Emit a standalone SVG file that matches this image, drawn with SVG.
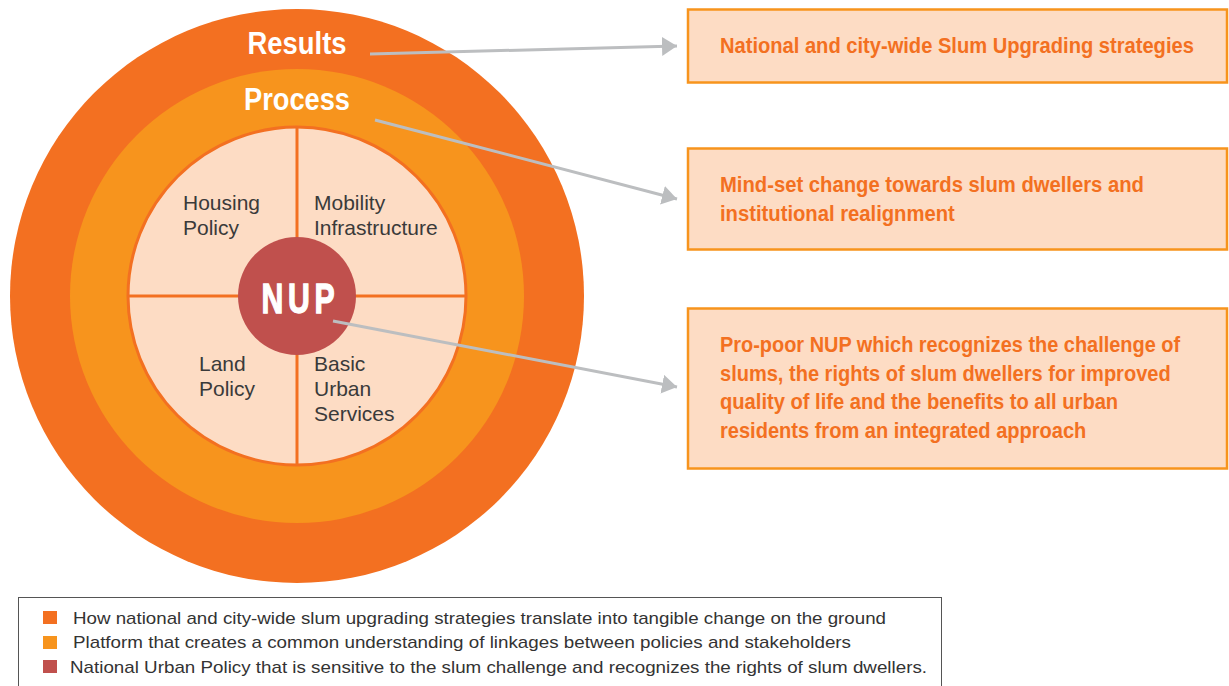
<svg xmlns="http://www.w3.org/2000/svg" width="1229" height="686" viewBox="0 0 1229 686">
<defs>
<style>
.bold{font-family:"Liberation Sans",Arial,sans-serif;font-weight:bold;}
.ring{fill:#fff;font-size:31px;text-anchor:middle;}
.lbl{font-family:"Liberation Sans",Arial,sans-serif;font-size:21px;fill:#3a3a3a;}
.box{fill:#FDDCC4;stroke:#F7941D;stroke-width:2.5;}
.btxt{fill:#F37021;font-size:22px;}
.leg{font-family:"Liberation Sans",Arial,sans-serif;font-size:17px;fill:#333;}
.conn{stroke:#BCBEC0;stroke-width:3;fill:none;}
</style>
<marker id="ah" markerUnits="userSpaceOnUse" markerWidth="16" markerHeight="20" refX="15" refY="9.5" orient="auto">
<path d="M0,0 L15,9.5 L0,19 z" fill="#BCBEC0"/>
</marker>
</defs>
<rect width="1229" height="686" fill="#fff"/>
<g id="results-ring">
<circle cx="297" cy="296" r="287" fill="#F37021"/>
<text class="bold ring" x="297" y="54" textLength="99" lengthAdjust="spacingAndGlyphs">Results</text>
</g>
<g id="process-ring">
<circle cx="297" cy="296" r="227" fill="#F7941D"/>
<text class="bold ring" x="297" y="110" textLength="106" lengthAdjust="spacingAndGlyphs">Process</text>
</g>
<g id="policies">
<circle cx="297" cy="296" r="169" fill="#FDDCC4" stroke="#F37021" stroke-width="3"/>
<line x1="297" y1="127" x2="297" y2="465" stroke="#F37021" stroke-width="3"/>
<line x1="128" y1="296" x2="466" y2="296" stroke="#F37021" stroke-width="3"/>
</g>
<g id="housing-policy">
<text class="lbl" x="183" y="210">Housing</text>
<text class="lbl" x="183" y="235">Policy</text>
</g>
<g id="mobility-infrastructure">
<text class="lbl" x="314" y="210">Mobility</text>
<text class="lbl" x="314" y="235">Infrastructure</text>
</g>
<g id="land-policy">
<text class="lbl" x="199" y="371">Land</text>
<text class="lbl" x="199" y="396">Policy</text>
</g>
<g id="basic-urban-services">
<text class="lbl" x="314" y="371">Basic</text>
<text class="lbl" x="314" y="396">Urban</text>
<text class="lbl" x="314" y="421">Services</text>
</g>
<g id="nup">
<circle cx="297" cy="296" r="59" fill="#C0504D"/>
<text class="bold" transform="translate(0,313) scale(0.72,1)" x="378.5 415.3 450.7" y="0" font-size="42" fill="#fff" stroke="#fff" stroke-width="1.3" text-anchor="middle">NUP</text>
</g>
<g id="connectors">
<line class="conn" x1="370" y1="54" x2="677" y2="46" marker-end="url(#ah)"/>
<line class="conn" x1="375" y1="120" x2="677" y2="199" marker-end="url(#ah)"/>
<line class="conn" x1="333" y1="321" x2="677" y2="387" marker-end="url(#ah)"/>
</g>
<g id="box-results">
<rect class="box" x="688" y="9.5" width="539" height="73"/>
<text class="bold btxt" transform="translate(720,53) scale(0.86,1)" x="0" y="0" textLength="551" lengthAdjust="spacingAndGlyphs">National and city-wide Slum Upgrading strategies</text>
</g>
<g id="box-process">
<rect class="box" x="688" y="148.5" width="539" height="101"/>
<text class="bold btxt" transform="translate(720,192) scale(0.86,1)" x="0" y="0" textLength="493" lengthAdjust="spacingAndGlyphs">Mind-set change towards slum dwellers and</text>
<text class="bold btxt" transform="translate(720,221) scale(0.86,1)" x="0" y="0" textLength="273" lengthAdjust="spacingAndGlyphs">institutional realignment</text>
</g>
<g id="box-nup">
<rect class="box" x="688" y="308.5" width="539" height="160"/>
<text class="bold btxt" transform="translate(720,352) scale(0.86,1)" x="0" y="0" textLength="535" lengthAdjust="spacingAndGlyphs">Pro-poor NUP which recognizes the challenge of</text>
<text class="bold btxt" transform="translate(720,381) scale(0.86,1)" x="0" y="0" textLength="524" lengthAdjust="spacingAndGlyphs">slums, the rights of slum dwellers for improved</text>
<text class="bold btxt" transform="translate(720,409) scale(0.86,1)" x="0" y="0" textLength="463" lengthAdjust="spacingAndGlyphs">quality of life and the benefits to all urban</text>
<text class="bold btxt" transform="translate(720,438) scale(0.86,1)" x="0" y="0" textLength="426" lengthAdjust="spacingAndGlyphs">residents from an integrated approach</text>
</g>
<g id="legend">
<rect x="18.5" y="597.5" width="923" height="100" fill="#fff" stroke="#555" stroke-width="1"/>
<rect x="43" y="611" width="14" height="13" fill="#F37021"/>
<rect x="43" y="636" width="14" height="13" fill="#F7941D"/>
<rect x="43" y="660" width="14" height="13" fill="#C0504D"/>
<text class="leg" x="73" y="624" textLength="813" lengthAdjust="spacingAndGlyphs">How national and city-wide slum upgrading strategies translate into tangible change on the ground</text>
<text class="leg" x="73" y="648" textLength="778" lengthAdjust="spacingAndGlyphs">Platform that creates a common understanding of linkages between policies and stakeholders</text>
<text class="leg" x="70" y="673" textLength="857" lengthAdjust="spacingAndGlyphs">National Urban Policy that is sensitive to the slum challenge and recognizes the rights of slum dwellers.</text>
</g>
</svg>
